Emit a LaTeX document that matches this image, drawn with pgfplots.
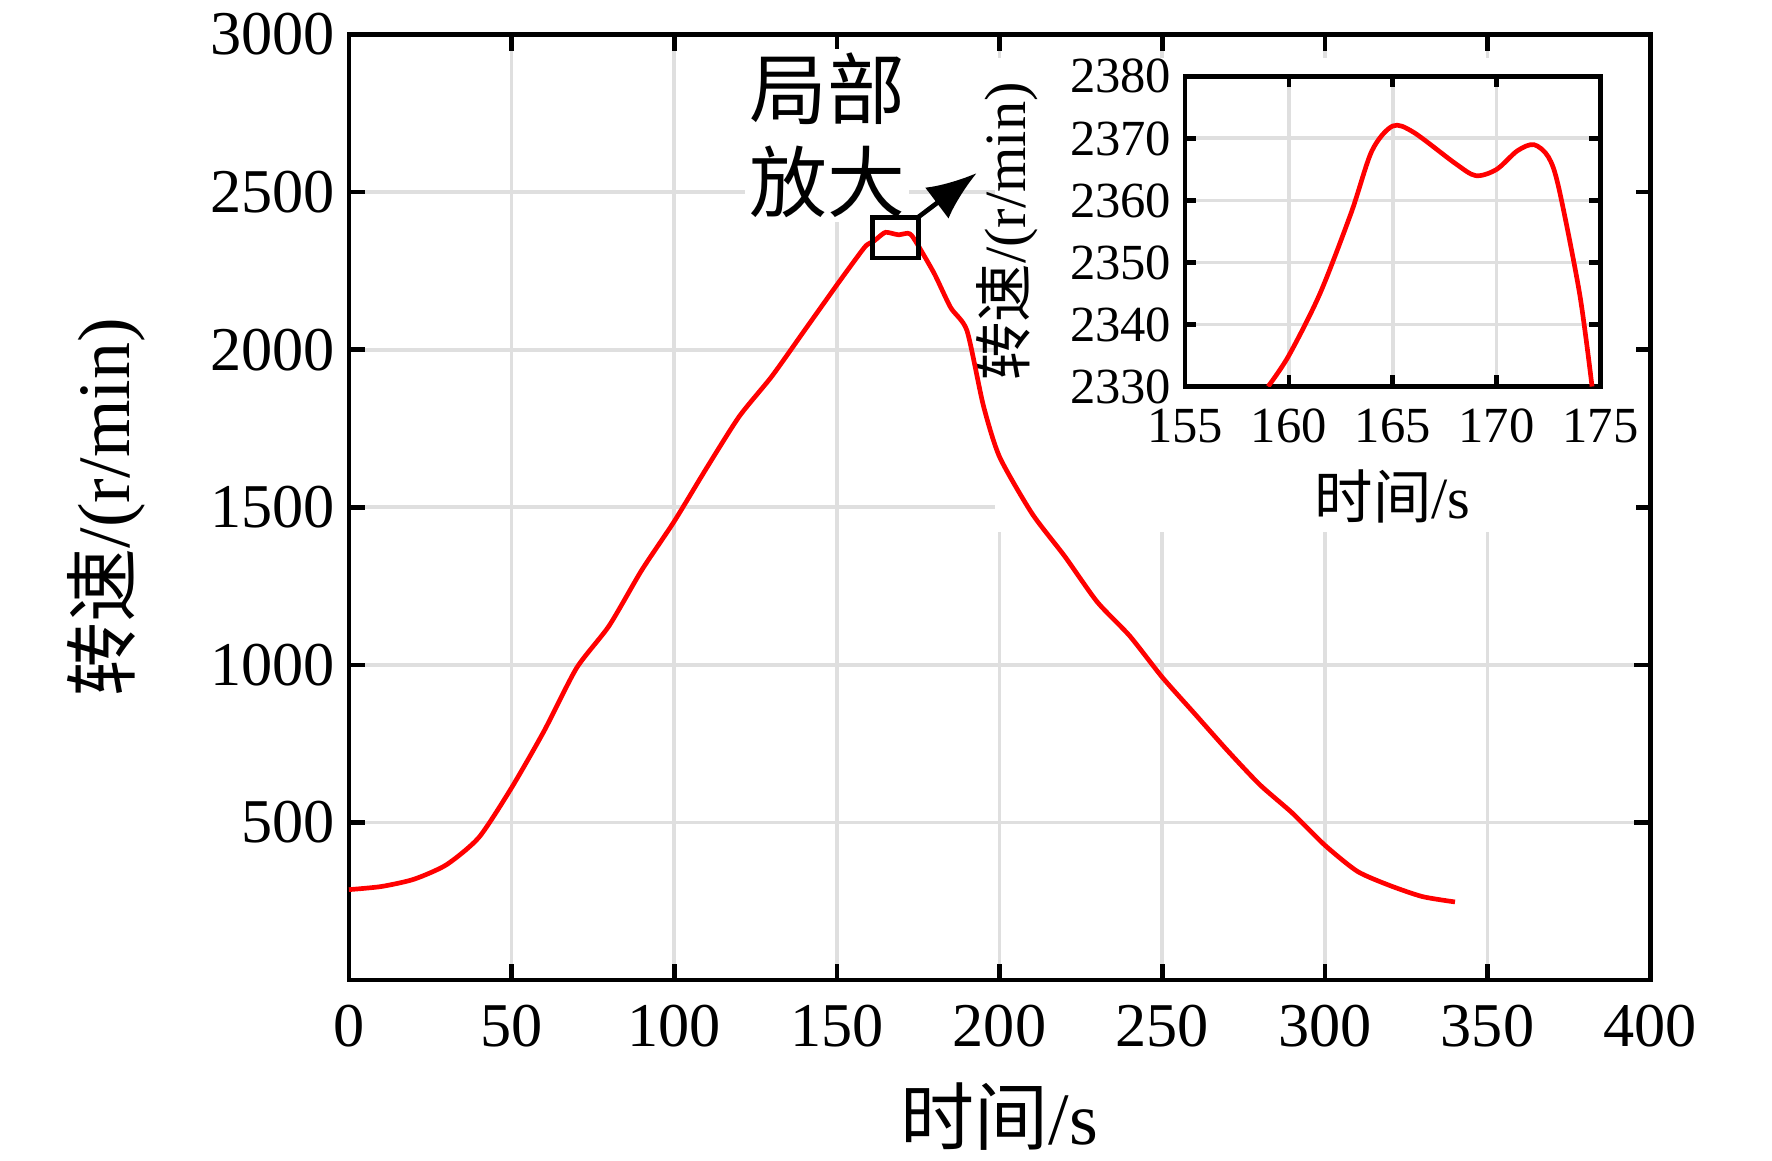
\documentclass[border=0pt]{standalone}
\usepackage{pgfplots}
\pgfplotsset{compat=1.18}
\usetikzlibrary{arrows.meta}
\usepackage{fontspec}
\setmainfont{Liberation Serif}
\newfontfamily\cjk{Noto Sans CJK SC}
\begin{document}
\begin{tikzpicture}
\pgfplotsset{every axis/.append style={/pgf/number format/assume math mode=true, tick align=inside, tick style={black, line width=1.2pt}, axis line style={line width=1.2pt}, grid style={gray!25, line width=1pt}},
 mainax/.style={scale only axis, width=11.75cm, height=8.54cm,
 xmin=0, xmax=400, ymin=0, ymax=3000, xtick={0,50,...,400}, ytick={500,1000,...,3000}}}
\begin{axis}[mainax, name=main,
 grid=major, major tick length=0.15cm,
 ticklabel style={font=\fontsize{16}{18}\selectfont}, scaled ticks=false,
 xticklabel style={yshift=-0.1cm},
 yticklabel style={/pgf/number format/1000 sep={}},
 label style={font=\fontsize{19}{22}\selectfont},
 xlabel={{\cjk 时间}/s}, ylabel={{\cjk 转速}/(r/min)},
 xlabel style={yshift=-0.08cm}, ylabel style={yshift=0.35cm}]
\end{axis}
\fill[white] (5.83cm,4.05cm) rectangle (11.62cm,8.33cm);
\begin{axis}[scale only axis, width=3.75cm, height=2.80cm, at={(7.55cm,8.16cm)}, anchor=north west,
 xmin=155, xmax=175, ymin=2330, ymax=2380, xtick={155,160,...,175}, ytick={2330,2340,...,2380},
 grid=major, major tick length=0.1cm,
 ticklabel style={font=\fontsize{13}{15}\selectfont},
 xticklabel style={yshift=-0.08cm},
 yticklabel style={/pgf/number format/1000 sep={}},
 label style={font=\fontsize{15}{17}\selectfont},
 xlabel={{\cjk 时间}/s}, ylabel={{\cjk 转速}/(r/min)}, ylabel style={yshift=0.05cm}]
\addplot[red, line width=1.2pt, smooth, tension=0.5] coordinates {
(159,2330)(160,2335)(161.5,2345)(163,2358)(164,2368)(165,2372)(166,2371)(168,2366)(169,2364)(170,2365)(171,2368)(171.8,2369)(172.5,2367)(173,2362)(174,2345)(174.6,2330)};
\end{axis}
\begin{axis}[mainax, axis lines=none, clip=false]
\node[fill=white, align=left, font=\fontsize{20}{24}\selectfont\cjk, inner sep=1pt] at (axis cs:147,2680) {局部\\放大};
\addplot[red, line width=1.2pt, smooth, tension=0.4] coordinates {
(0,287)(10,297)(20,320)(30,366)(40,453)(50,610)(60,790)(70,990)(80,1124)(90,1300)(100,1455)(110,1625)(120,1788)(130,1915)(140,2060)(150,2205)(156,2290)(159,2330)(161.5,2345)(163,2358)(165,2372)(168,2366)(169,2364)(171.8,2369)(173,2362)(175,2330)(180,2240)(185,2133)(190,2060)(195,1824)(200,1660)(210,1480)(220,1345)(230,1200)(240,1092)(250,961)(260,845)(270,729)(280,620)(290,530)(300,428)(310,345)(320,300)(330,265)(340,248)};
\draw[black, line width=1.2pt] (axis cs:161,2290) rectangle (axis cs:175,2420);
\draw[black, line width=1.2pt, -{Latex[length=0.45cm,width=0.35cm]}] (axis cs:175,2420) -- (axis cs:193,2560);
\end{axis}
\pgfresetboundingbox
\path (-3.15cm,-1.63cm) rectangle (12.85cm,8.85cm);
\end{tikzpicture}
\end{document}
